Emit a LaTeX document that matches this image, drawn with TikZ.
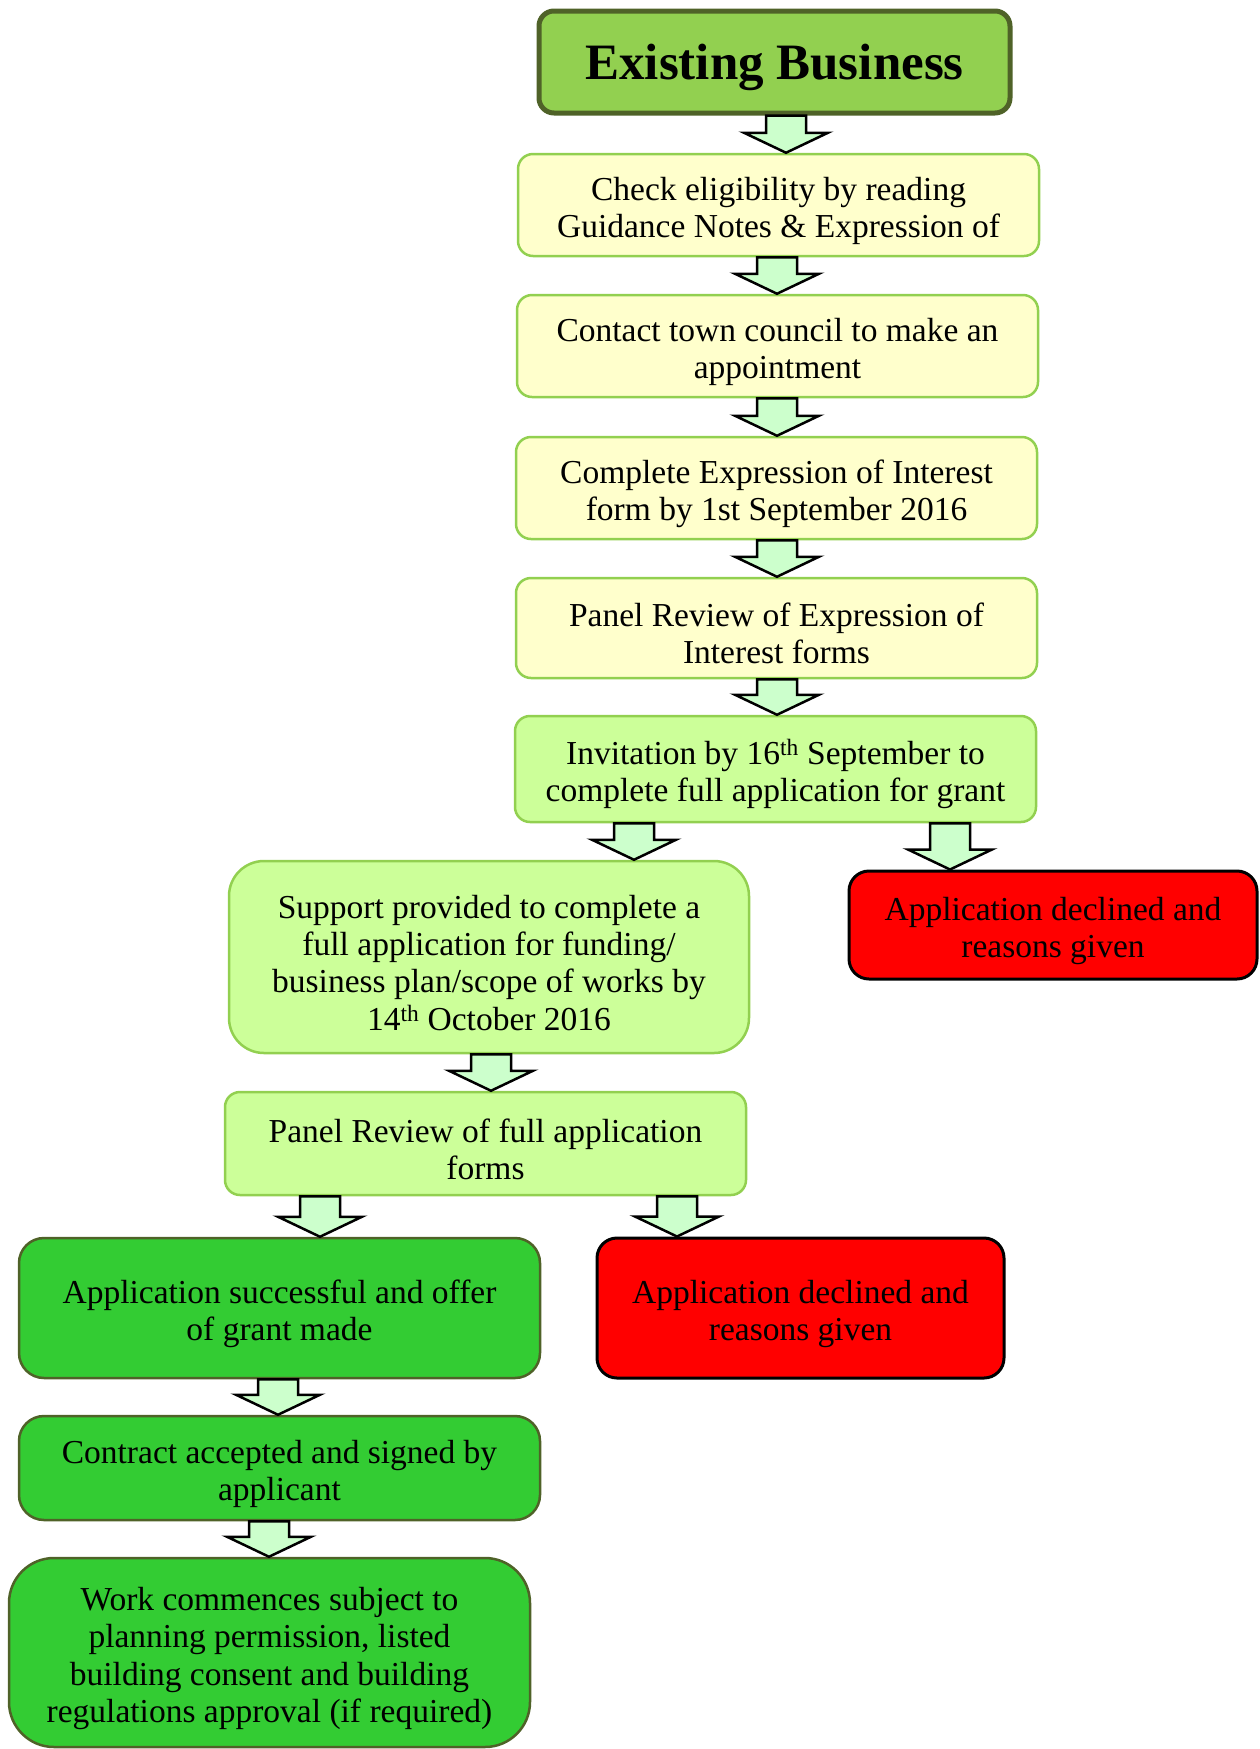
\documentclass[tikz,border=0pt]{standalone}
\usepackage{fontspec}
\setmainfont{Liberation Serif}
\usepackage{xcolor}
\usepackage{tikz}
\usetikzlibrary{positioning,calc}

\definecolor{titlefill}{HTML}{92D050}
\definecolor{olive}{HTML}{4F6228}
\definecolor{paleyellow}{HTML}{FFFFCC}
\definecolor{lime}{HTML}{CCFF99}
\definecolor{brightgreen}{HTML}{33CC33}
\definecolor{arrowfill}{HTML}{CCFFCC}

% block arrow from the bottom of #2 to the top of #3, at x = #1
\newcommand{\blockarrow}[3]{%
  \draw[barrow] let \p1 = (#2.south), \p2 = (#3.north) in
    (#1pt-20pt,\y1) -- (#1pt+20pt,\y1) -- (#1pt+20pt,\y2+20pt) -- (#1pt+42pt,\y2+20pt)
    -- (#1pt,\y2) -- (#1pt-42pt,\y2+20pt) -- (#1pt-20pt,\y2+20pt) -- cycle;}

\begin{document}
\begin{tikzpicture}[x=1pt,y=-1pt,
    box/.style={rectangle, rounded corners=15pt, align=flush center, inner sep=0pt, text width=480pt,
      font=\fontsize{33.5}{37.3}\selectfont, execute at begin node={\rule{0pt}{35pt}}},
    titlebox/.style={rectangle, rounded corners=15pt, align=center, inner sep=0pt,
      draw=olive, line width=5pt, fill=titlefill,
      font=\fontsize{51}{56}\selectfont\bfseries, execute at begin node={\rule{0pt}{46pt}}},
    yellowbox/.style={box, draw=titlefill, line width=2.5pt, fill=paleyellow},
    limebox/.style={box, draw=titlefill, line width=2.5pt, fill=lime},
    greenbox/.style={box, draw=olive, line width=2.5pt, fill=brightgreen, rounded corners=25pt},
    redbox/.style={box, text width=380pt, draw=black, line width=3pt, fill=red, rounded corners=20pt},
    barrow/.style={draw=black, line width=2.5pt, fill=arrowfill, line join=miter}]
  \useasboundingbox (0,0) rectangle (1260,1749);

  % main column
  \node[titlebox, minimum width=471pt, minimum height=102pt] (title) at (774.5,62) {Existing Business};
  \node[yellowbox, minimum width=521pt, minimum height=102pt] (check) at (778.5,205)
    {Check eligibility by reading\\Guidance Notes \& Expression of};
  \node[yellowbox, minimum width=521pt, minimum height=102pt] (contact) at (777.5,346)
    {Contact town council to make an\\appointment};
  \node[yellowbox, minimum width=521pt, minimum height=102pt] (complete) at (776.5,488)
    {Complete Expression of Interest\\form by 1st September 2016};
  \node[yellowbox, minimum width=521pt, minimum height=100pt] (review) at (776.5,628)
    {Panel Review of Expression of\\Interest forms};
  \node[limebox, minimum width=521pt, minimum height=106pt] (invite) at (775.5,769)
    {Invitation by 16\textsuperscript{th} September to\\complete full application for grant};

  % branch after invitation
  \node[limebox, rounded corners=35pt, minimum width=520pt, minimum height=192pt] (support) at (489,957)
    {Support provided to complete a\\full application for funding/\\business plan/scope of works by\\14\textsuperscript{th} October 2016};
  \node[redbox, minimum width=408pt, minimum height=108pt] (declineA) at (1053,925)
    {Application declined and\\reasons given};
  \node[limebox, minimum width=521pt, minimum height=103pt] (reviewfull) at (485.5,1143.5)
    {Panel Review of full application\\forms};

  % outcome of full review
  \node[greenbox, minimum width=521pt, minimum height=140pt] (success) at (279.5,1308)
    {Application successful and offer\\of grant made};
  \node[redbox, minimum width=407pt, minimum height=140pt] (declineB) at (800.5,1308)
    {Application declined and\\reasons given};
  \node[greenbox, minimum width=521pt, minimum height=104pt] (contract) at (279.5,1468)
    {Contract accepted and signed by\\applicant};
  \node[greenbox, rounded corners=45pt, minimum width=521pt, minimum height=189pt] (work) at (269.5,1652.5)
    {Work commences subject to\\planning permission, listed\\building consent and building\\regulations approval (if required)};

  % arrows
  \blockarrow{786}{title}{check}
  \blockarrow{777}{check}{contact}
  \blockarrow{777}{contact}{complete}
  \blockarrow{777}{complete}{review}
  \blockarrow{777}{review}{invite}
  \blockarrow{634}{invite}{support}
  \blockarrow{950}{invite}{declineA}
  \blockarrow{491}{support}{reviewfull}
  \blockarrow{320}{reviewfull}{success}
  \blockarrow{677}{reviewfull}{declineB}
  \blockarrow{278}{success}{contract}
  \blockarrow{269}{contract}{work}
\end{tikzpicture}
\end{document}
